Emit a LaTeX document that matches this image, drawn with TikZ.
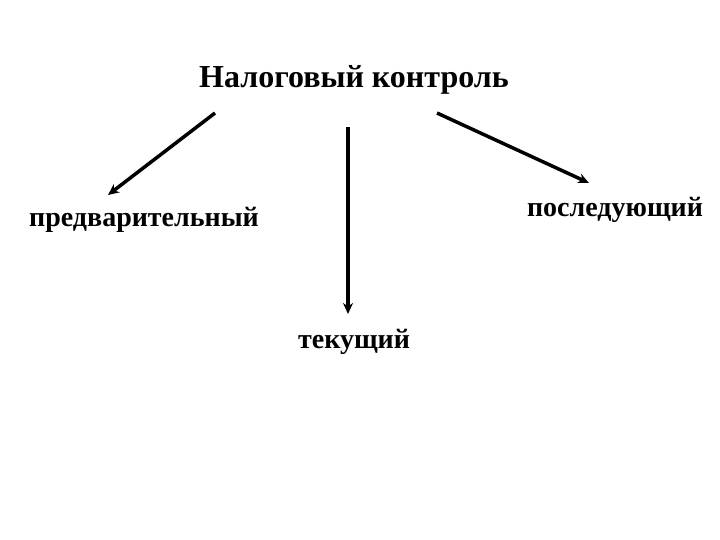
\documentclass[tikz,border=0pt]{standalone}
\usepackage{fontspec}
\setmainfont{Liberation Serif}
\usetikzlibrary{arrows.meta}
\begin{document}
\begin{tikzpicture}[x=1pt,y=-1pt,
  lbl/.style={font=\bfseries\fontsize{28}{32}\selectfont, inner sep=0pt, anchor=center},
  arr/.style={line width=3.5pt, -{Stealth[length=11pt,width=10pt]}}]
\useasboundingbox (0,0) rectangle (720,540);
\node[lbl, font=\bfseries\fontsize{32}{36}\selectfont] (t) at (354,80) {Налоговый контроль};
\node[lbl] (p) at (144,220) {предварительный};
\node[lbl] (s) at (615,210) {последующий};
\node[lbl] (c) at (354,342) {текущий};
\coordinate (a1) at (215,113);
\coordinate (a2) at (348,127);
\coordinate (a3) at (437,113);
\coordinate (b1) at (108,195);
\coordinate (b2) at (348,314);
\coordinate (b3) at (589,183);
\draw[arr] (a1) -- (b1);
\draw[arr] (a2) -- (b2);
\draw[arr] (a3) -- (b3);
\end{tikzpicture}
\end{document}
